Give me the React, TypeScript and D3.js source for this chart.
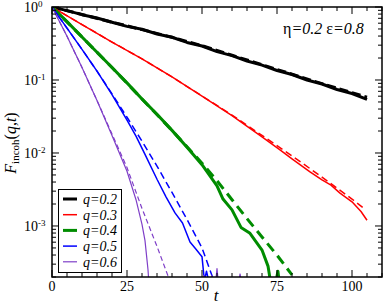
import * as d3 from 'd3';
import { Component, createRef } from 'react';

// q = 0.2 (simulation / theory)
const tQ2 = [0, 5, 10, 15, 20, 25, 30, 35, 40, 45, 50, 55, 60, 65, 70, 75, 80, 85, 90, 95, 100, 105];
const fQ2 = [1, 0.891, 0.785, 0.708, 0.617, 0.543, 0.495, 0.427, 0.385, 0.327, 0.292, 0.245, 0.216, 0.182, 0.160, 0.135, 0.119, 0.100, 0.0881, 0.0741, 0.0653, 0.0543];
const tQ2th = [0, 10, 20, 30, 40, 50, 60, 70, 80, 90, 100, 105];
const fQ2th = [1, 0.79, 0.62, 0.49, 0.385, 0.295, 0.218, 0.162, 0.120, 0.089, 0.067, 0.058];

// q = 0.3
const tQ3 = [0, 10, 20, 30, 40, 50, 60, 70, 76, 80, 86, 90, 93, 96, 100, 103, 105];
const fQ3 = [1, 0.575, 0.331, 0.195, 0.110, 0.0603, 0.0324, 0.0166, 0.0110, 0.00832, 0.00550, 0.00427, 0.00363, 0.00282, 0.00214, 0.00158, 0.00120];
const tQ3th = [0, 10, 20, 30, 40, 50, 60, 70, 80, 90, 100, 104];
const fQ3th = [1, 0.575, 0.331, 0.195, 0.110, 0.0603, 0.0331, 0.0174, 0.00912, 0.00468, 0.00234, 0.00174];

// q = 0.4
const tQ4 = [0, 5, 10, 15, 20, 25, 30, 35, 40, 45, 50, 55, 57, 60, 63, 66, 70, 72, 73, 74.5, 75.3, 76];
const fQ4 = [1, 0.631, 0.389, 0.240, 0.148, 0.0912, 0.0550, 0.0339, 0.0204, 0.0120, 0.00692, 0.00355, 0.00234, 0.00166, 0.000955, 0.000794, 0.000468, 0.000282, 0.000158, 0.000158, 0.000240, 0.000141];
const tQ4th = [0, 10, 20, 30, 40, 50, 55, 60, 65, 70, 75, 80];
const fQ4th = [1, 0.389, 0.148, 0.0550, 0.0204, 0.00724, 0.00417, 0.00229, 0.00126, 0.000708, 0.000398, 0.000214];

// q = 0.5
const tQ5 = [0, 5, 10, 15, 20, 25, 28, 31, 35, 38, 41, 43.5, 46, 48, 50, 50.8, 51.5, 52.5];
const fQ5 = [1, 0.513, 0.263, 0.132, 0.0631, 0.0282, 0.0170, 0.00955, 0.00437, 0.00251, 0.00151, 0.00110, 0.000603, 0.000479, 0.000380, 0.000178, 0.000240, 0.000158];
const tQ5th = [0, 5, 10, 15, 20, 25, 30, 35, 40, 45, 50, 53.5];
const fQ5th = [1, 0.513, 0.263, 0.132, 0.0646, 0.0309, 0.0145, 0.00661, 0.00288, 0.00123, 0.000501, 0.000200];

// q = 0.6
const tQ6 = [0, 5, 10, 15, 20, 25, 28, 30, 31, 32, 33, 50, 50.5, 51.5, 52.5, 53.2, 54, 55, 56, 61, 62.7, 64];
const fQ6 = [1, 0.398, 0.148, 0.0525, 0.0174, 0.00562, 0.00229, 0.00105, 0.000631, 0.000251, 0.0000631, 0.0001, 0.00021, 0.00012, 0.00012, 0.00021, 0.0001, 0.00026, 0.0001, 0.0001, 0.00022, 0.0001];
const tQ6th = [0, 5, 10, 15, 20, 25, 30, 35, 38.8];
const fQ6th = [1, 0.398, 0.148, 0.0525, 0.0182, 0.00631, 0.00174, 0.000525, 0.000200];

const labels = ['q=0.2', 'q=0.3', 'q=0.4', 'q=0.5', 'q=0.6'];
const xMajor = [0, 25, 50, 75, 100];
const yMajor = [1, 0.1, 0.01, 0.001];
const yExp = ['0', '-1', '-2', '-3'];

const series = [
    { label: labels[0], t: tQ2, f: fQ2, tt: tQ2th, ft: fQ2th, color: '#000000', w: 3, dash: '9,4' },
    { label: labels[1], t: tQ3, f: fQ3, tt: tQ3th, ft: fQ3th, color: '#ff0000', w: 1.5, dash: '7,4' },
    { label: labels[2], t: tQ4, f: fQ4, tt: tQ4th, ft: fQ4th, color: '#008c00', w: 3, dash: '10,6' },
    { label: labels[3], t: tQ5, f: fQ5, tt: tQ5th, ft: fQ5th, color: '#0000ff', w: 1.5, dash: '7,4' },
    { label: labels[4], t: tQ6, f: fQ6, tt: tQ6th, ft: fQ6th, color: '#7f3fc8', w: 1.2, dash: '5,3' },
];

const FONT = 'Liberation Serif';

class App extends Component {
    constructor(props) {
        super(props);
        this.graphRef = createRef();
    }

    componentDidMount() {
        this.drawGraph();
    }

    componentDidUpdate() {
        this.drawGraph();
    }

    drawGraph() {
        var margin = { top: 7, right: 8, bottom: 28, left: 52 },
            width = 390 - margin.left - margin.right,
            height = 305 - margin.top - margin.bottom;

        var x = d3.scaleLinear().domain([0, 110]).range([0, width]);
        var y = d3.scaleLog().domain([2e-4, 1]).range([height, 0]);

        var root = d3.select(this.graphRef.current)
            .html('')
            .append('svg')
            .attr('width', 390)
            .attr('height', 305)
            .style('position', 'absolute')
            .style('left', 0)
            .style('top', 0)
            .style('background', '#fff')
            .style('font-family', FONT);

        root.append('defs').append('clipPath').attr('id', 'plotclip')
            .append('rect').attr('width', width).attr('height', height);

        var svg = root.append('g')
            .attr('transform', 'translate(' + margin.left + ',' + margin.top + ')');

        var line = d3.line()
            .x(function (d) { return x(d[0]); })
            .y(function (d) { return y(d[1]); });

        var plot = svg.append('g').attr('clip-path', 'url(#plotclip)');

        // theory (dashed) under simulation (solid)
        series.forEach(function (s) {
            var pts = s.tt.map(function (t, i) { return [t, s.ft[i]]; });
            plot.append('path')
                .attr('d', line(pts))
                .attr('fill', 'none')
                .attr('stroke', s.color)
                .attr('stroke-width', s.w)
                .attr('stroke-dasharray', s.dash);
        });
        series.forEach(function (s) {
            var pts = s.t.map(function (t, i) { return [t, s.f[i]]; });
            plot.append('path')
                .attr('d', line(pts))
                .attr('fill', 'none')
                .attr('stroke', s.color)
                .attr('stroke-width', s.w)
                .attr('stroke-linejoin', 'round');
        });

        // frame
        svg.append('rect')
            .attr('width', width).attr('height', height)
            .attr('fill', 'none').attr('stroke', '#000').attr('stroke-width', 1.5);

        var ticks = svg.append('g').attr('stroke', '#000').attr('stroke-width', 1);

        // x ticks, inside, bottom and top
        d3.range(0, 111, 5).forEach(function (v) {
            var len = xMajor.indexOf(v) >= 0 ? 7 : 4;
            ticks.append('line').attr('x1', x(v)).attr('x2', x(v)).attr('y1', height).attr('y2', height - len);
            ticks.append('line').attr('x1', x(v)).attr('x2', x(v)).attr('y1', 0).attr('y2', len);
        });

        // y ticks, log
        yMajor.forEach(function (p) {
            ticks.append('line').attr('x1', 0).attr('x2', 7).attr('y1', y(p)).attr('y2', y(p));
            ticks.append('line').attr('x1', width).attr('x2', width - 7).attr('y1', y(p)).attr('y2', y(p));
            d3.range(2, 10).forEach(function (m) {
                var v = p * m / 10;
                if (v < 2e-4 || v >= 1) return;
                ticks.append('line').attr('x1', 0).attr('x2', 4).attr('y1', y(v)).attr('y2', y(v));
                ticks.append('line').attr('x1', width).attr('x2', width - 4).attr('y1', y(v)).attr('y2', y(v));
            });
        });

        // tick labels
        xMajor.forEach(function (v) {
            svg.append('text')
                .attr('x', x(v)).attr('y', height + 14)
                .attr('text-anchor', 'middle')
                .attr('font-size', 14)
                .style('font-family', FONT)
                .text(v);
        });

        yMajor.forEach(function (p, i) {
            var t = svg.append('text')
                .attr('x', -28).attr('y', y(p) + 5)
                .attr('font-size', 14)
                .style('font-family', FONT);
            t.append('tspan').text('10');
            t.append('tspan').attr('dy', -5).attr('font-size', 9).text(yExp[i]);
        });

        // axis titles
        root.append('text')
            .attr('x', margin.left + width / 2 - 1).attr('y', 301)
            .attr('text-anchor', 'middle')
            .attr('font-size', 17)
            .attr('font-style', 'italic')
            .style('font-family', FONT)
            .text('t');

        var yl = root.append('text')
            .attr('transform', 'translate(16,143) rotate(-90)')
            .attr('text-anchor', 'middle')
            .attr('font-size', 16)
            .style('font-family', FONT);
        yl.append('tspan').attr('font-style', 'italic').text('F');
        yl.append('tspan').attr('font-size', 11).attr('dy', 3).text('incoh');
        yl.append('tspan').attr('dy', -3).text('(');
        yl.append('tspan').attr('font-style', 'italic').text('q');
        yl.append('tspan').text(',');
        yl.append('tspan').attr('font-style', 'italic').text('t');
        yl.append('tspan').text(')');

        // annotation
        var an = root.append('text')
            .attr('x', 283).attr('y', 34)
            .attr('font-size', 16)
            .style('font-family', FONT);
        an.append('tspan').text('η');
        an.append('tspan').attr('font-style', 'italic').text('=0.2 ');
        an.append('tspan').text('ε');
        an.append('tspan').attr('font-style', 'italic').text('=0.8');

        // legend
        var lg = root.append('g');
        lg.append('rect')
            .attr('x', 58.5).attr('y', 189.5).attr('width', 63).attr('height', 83)
            .attr('fill', '#fff').attr('stroke', '#000').attr('stroke-width', 1);
        series.forEach(function (s, i) {
            var cy = 199 + i * 15.7;
            lg.append('line')
                .attr('x1', 63).attr('x2', 77).attr('y1', cy).attr('y2', cy)
                .attr('stroke', s.color).attr('stroke-width', s.w);
            lg.append('text')
                .attr('x', 83).attr('y', cy + 5)
                .attr('font-size', 14)
                .attr('font-style', 'italic')
                .style('font-family', FONT)
                .text(s.label);
        });
    }

    render() {
        return (
            <div>
                <div ref={this.graphRef}></div>
            </div>
        );
    }
}

export default App;
